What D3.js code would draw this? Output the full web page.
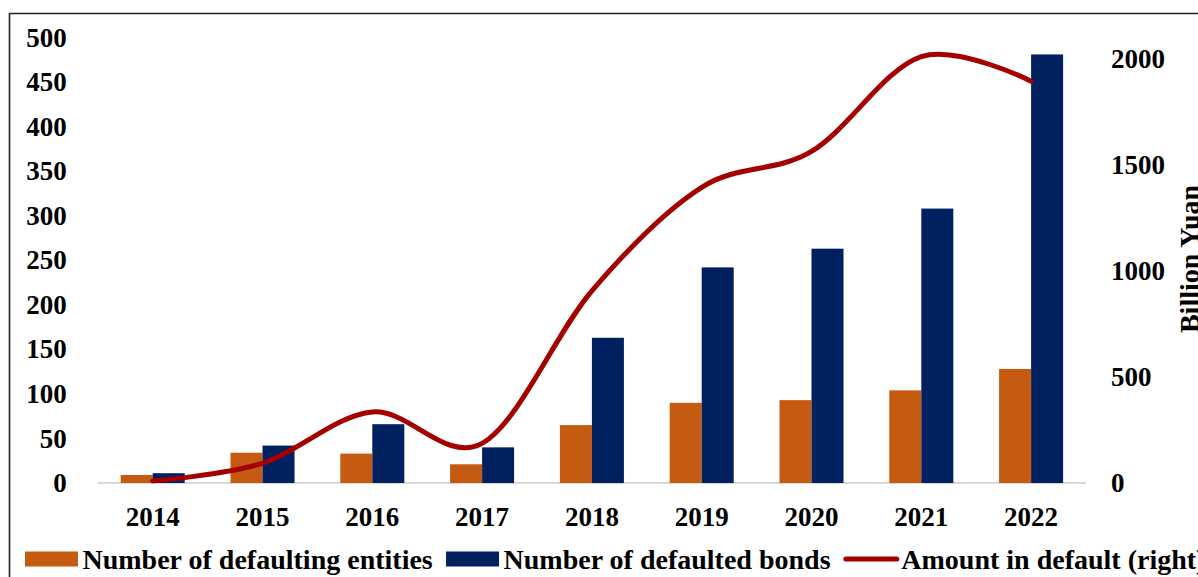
<!DOCTYPE html>
<html lang="en">
<head>
<meta charset="UTF-8">
<title>Bond defaults 2014-2022</title>
<script src="https://d3js.org/d3.v7.min.js"></script>
<style>
    body { margin: 0; background: #fff; }
    svg text { font-family: "Liberation Serif", "Times New Roman", serif; font-weight: bold; fill: #000; }
</style>
</head>
<body>
<svg width="1198" height="577" id="canvas"></svg>

<script>
    // data
    const years = ["2014", "2015", "2016", "2017", "2018", "2019", "2020", "2021", "2022"];
    const entities = [9, 34, 33, 21, 65, 90, 93, 104, 128];
    const bonds = [11, 42, 66, 40, 163, 242, 263, 308, 481];
    const amount = [10, 93, 335, 187, 906, 1394, 1563, 2010, 1894];
    const leftTicks = [0, 50, 100, 150, 200, 250, 300, 350, 400, 450, 500];
    const rightTicks = [0, 500, 1000, 1500, 2000];
    const seriesNames = ["Number of defaulting entities", "Number of defaulted bonds", "Amount in default (right)"];
    const colors = ["#c55a11", "#002060", "#a50000"];

    let svg = d3.select("svg");

    // plot box
    const plotL = 97.8, plotR = 1086, plotT = 37.5, plotB = 483;

    // frame (cut off on right and bottom)
    svg.append("path")
        .attr("d", "M9.5,577 L9.5,13.5 L1198,13.5")
        .attr("fill", "none")
        .attr("stroke", "#222")
        .attr("stroke-width", 1.6);

    let x = d3.scaleBand().domain(years).range([plotL, plotR])
        .paddingInner(0.417).paddingOuter(0.2085);
    let xs = d3.scaleBand().domain([0, 1]).range([0, x.bandwidth()]);
    let yL = d3.scaleLinear().domain([0, 500]).range([plotB, plotT]);
    let yR = d3.scaleLinear().domain([0, 2100]).range([plotB, plotT]);

    // baseline
    svg.append("line")
        .attr("x1", plotL).attr("x2", plotR)
        .attr("y1", plotB).attr("y2", plotB)
        .attr("stroke", "#d9d9d9")
        .attr("stroke-width", 2);

    // bars
    const groups = years.map((yr, i) => ({year: yr, vals: [entities[i], bonds[i]]}));
    svg.selectAll(".grp")
        .data(groups)
        .enter()
        .append("g")
        .attr("class", "grp")
        .attr("transform", d => `translate(${x(d.year)},0)`)
        .selectAll("rect")
        .data(d => d.vals)
        .enter()
        .append("rect")
        .attr("x", (d, i) => xs(i))
        .attr("width", xs.bandwidth())
        .attr("y", d => yL(d))
        .attr("height", d => plotB - yL(d))
        .attr("fill", (d, i) => colors[i]);

    // smooth line on the right axis
    let line = d3.line()
        .x((d, i) => x(years[i]) + x.bandwidth() / 2)
        .y(d => yR(d))
        .curve(d3.curveCardinal.tension(0));

    svg.append("path")
        .datum(amount)
        .attr("d", line)
        .attr("fill", "none")
        .attr("stroke", colors[2])
        .attr("stroke-width", 5)
        .attr("stroke-linecap", "round")
        .attr("stroke-linejoin", "round");

    // axes
    let axL = svg.append("g")
        .attr("transform", `translate(${plotL},0)`)
        .call(d3.axisLeft(yL).tickValues(leftTicks).tickFormat(d3.format("d")).tickSize(0).tickPadding(31));
    let axR = svg.append("g")
        .attr("transform", `translate(${plotR},0)`)
        .call(d3.axisRight(yR).tickValues(rightTicks).tickFormat(d3.format("d")).tickSize(0).tickPadding(25));
    let axB = svg.append("g")
        .attr("transform", `translate(0,${plotB})`)
        .call(d3.axisBottom(x).tickSize(0).tickPadding(23.5));

    [axL, axR, axB].forEach(a => {
        a.select(".domain").remove();
        a.selectAll("text")
            .style("font-size", "27px")
            .style("font-family", "'Liberation Serif', 'Times New Roman', serif")
            .style("font-weight", "bold")
            .attr("fill", "#000");
    });

    // right axis title
    svg.append("text")
        .attr("transform", "translate(1199,259) rotate(-90)")
        .attr("text-anchor", "middle")
        .style("font-size", "28px")
        .text("Billion Yuan");

    // legend
    let lx = 25;
    const ly = 559;
    seriesNames.forEach((name, i) => {
        if (i < 2) {
            svg.append("rect")
                .attr("x", lx).attr("y", ly - 7.5)
                .attr("width", 53).attr("height", 15)
                .attr("fill", colors[i]);
        } else {
            svg.append("line")
                .attr("x1", lx + 2).attr("x2", lx + 53)
                .attr("y1", ly).attr("y2", ly)
                .attr("stroke", colors[i])
                .attr("stroke-width", 5)
                .attr("stroke-linecap", "round");
        }
        let t = svg.append("text")
            .attr("x", lx + 57.5)
            .attr("y", 569)
            .style("font-size", "28px")
            .text(name);
        lx = lx + 57.5 + t.node().getComputedTextLength() + 13.3;
    });
</script>
</body>
</html>
